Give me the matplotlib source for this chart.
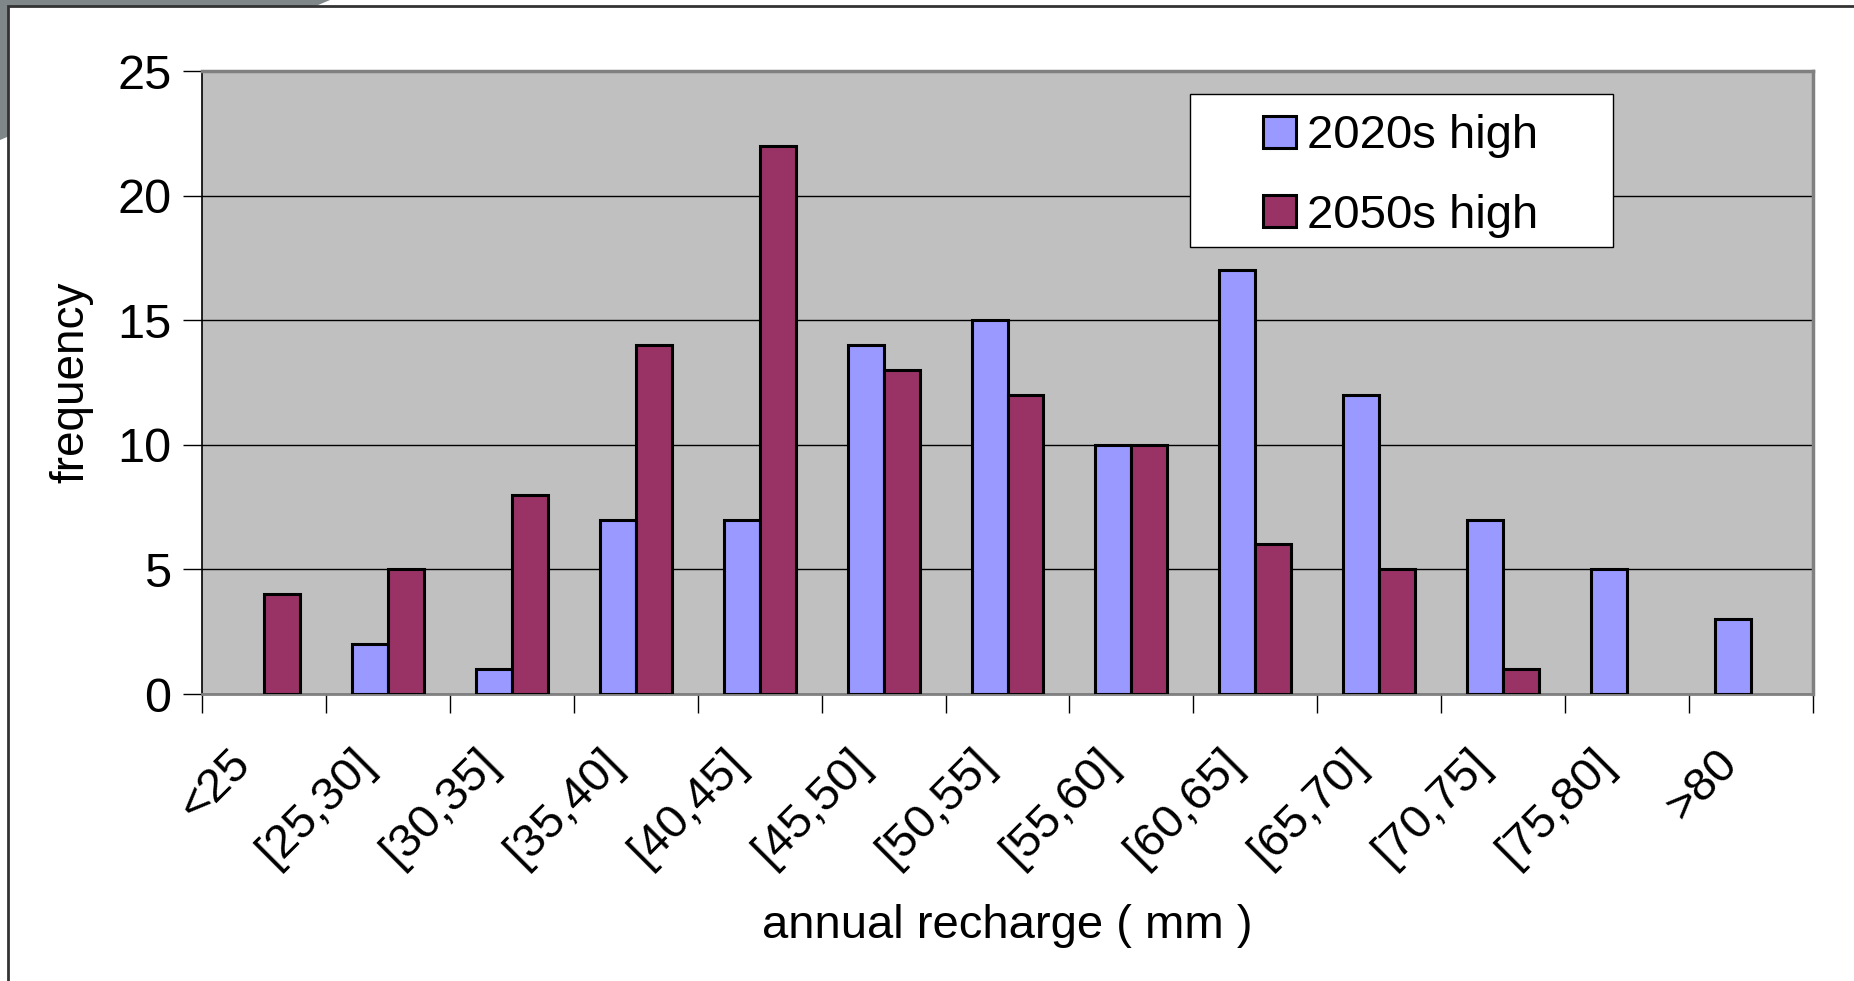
import numpy as np
import matplotlib.pyplot as plt
from matplotlib.patches import Polygon, Rectangle, Patch
from matplotlib.transforms import ScaledTranslation

plt.rcParams['font.family'] = ['Liberation Sans', 'DejaVu Sans']

# recharge bins and counts per bin
bins = ['<25', '[25,30]', '[30,35]', '[35,40]', '[40,45]', '[45,50]', '[50,55]',
        '[55,60]', '[60,65]', '[65,70]', '[70,75]', '[75,80]', '>80']
freq_2020s = [0, 2, 1, 7, 7, 14, 15, 10, 17, 12, 7, 5, 3]
freq_2050s = [4, 5, 8, 14, 22, 13, 12, 10, 6, 5, 1, 0, 0]
c2020, c2050 = '#9999ff', '#993366'

W, H = 1854, 981
fig = plt.figure(figsize=(W / 100, H / 100), dpi=100)

# slide corner and chart frame, kept behind the axes
fig.patches.append(Polygon([(0, 1), (330 / W, 1), (0, 1 - 140 / H)], closed=True,
                           transform=fig.transFigure, facecolor='#7f8788',
                           edgecolor='none', zorder=-2))
fig.patches.append(Rectangle((8 / W, -0.1), 1.1, 1.1 - 6 / H, transform=fig.transFigure,
                             facecolor='white', edgecolor='#333333', lw=2, zorder=-1))

ax = fig.add_axes([202 / W, 1 - 694 / H, (1813 - 202) / W, (694 - 71) / H])
ax.set_facecolor('#c0c0c0')

x = np.arange(len(bins))
w = 0.29
b1 = ax.bar(x - w / 2, freq_2020s, w, color=c2020, edgecolor='black', lw=2.2, zorder=3)
b2 = ax.bar(x + w / 2, freq_2050s, w, color=c2050, edgecolor='black', lw=2.2, zorder=3)
# empty bins get no outline
for bars, vals in ((b1, freq_2020s), (b2, freq_2050s)):
    for p, v in zip(bars.patches, vals):
        if v == 0:
            p.set_visible(False)

ax.set_xlim(-0.5, len(bins) - 0.5)
ax.set_ylim(0, 25)
ax.set_yticks([0, 5, 10, 15, 20, 25])
ax.yaxis.grid(True, color='black', lw=1)
ax.set_axisbelow(True)

# ticks on category boundaries, rotated labels under category centres
ax.set_xticks(np.arange(-0.5, len(bins)))
ax.set_xticklabels([])
lbl_tr = ax.get_xaxis_transform() + ScaledTranslation(-0.2, -0.625, fig.dpi_scale_trans)
for xi, lab in zip(x, bins):
    ax.text(xi, 0, lab, transform=lbl_tr, rotation=45, ha='right', va='center',
            rotation_mode='anchor', fontsize=34, clip_on=False)
ax.tick_params(axis='x', length=14, width=1)
ax.tick_params(axis='y', length=14, width=1, labelsize=35, pad=8)

for side in ['top', 'right']:
    ax.spines[side].set_color('#808080')
    ax.spines[side].set_linewidth(2.5)
ax.spines['bottom'].set_color('#808080')
ax.spines['bottom'].set_linewidth(2)
ax.spines['left'].set_color('black')
ax.spines['left'].set_linewidth(1.2)

ax.set_ylabel('frequency', fontsize=33, ha='center', va='center')
ax.yaxis.set_label_coords(-(202 - 71) / 1611, 0.5)
ax.set_xlabel('annual recharge ( mm )', fontsize=34, ha='center', va='center')
ax.xaxis.set_label_coords(0.5, -(926 - 694) / 623)

# legend box drawn separately so the entries sit centred in it
ax.add_patch(Rectangle((1190 / W, 1 - 247 / H), 423 / W, 153 / H,
                       transform=fig.transFigure, facecolor='white',
                       edgecolor='black', lw=1, zorder=6, clip_on=False))
handles = [Patch(facecolor=c2020, edgecolor='black', lw=2.2, label='2020s high'),
           Patch(facecolor=c2050, edgecolor='black', lw=2.2, label='2050s high')]
leg = ax.legend(handles=handles, loc='center', bbox_to_anchor=(1401 / W, 1 - 176 / H),
                bbox_transform=fig.transFigure, borderaxespad=0, fontsize=34,
                frameon=False, handlelength=0.68, handleheight=0.68,
                handletextpad=0.25, borderpad=0, labelspacing=0.75)
leg.set_zorder(7)

fig.savefig('out.png', dpi=100)
